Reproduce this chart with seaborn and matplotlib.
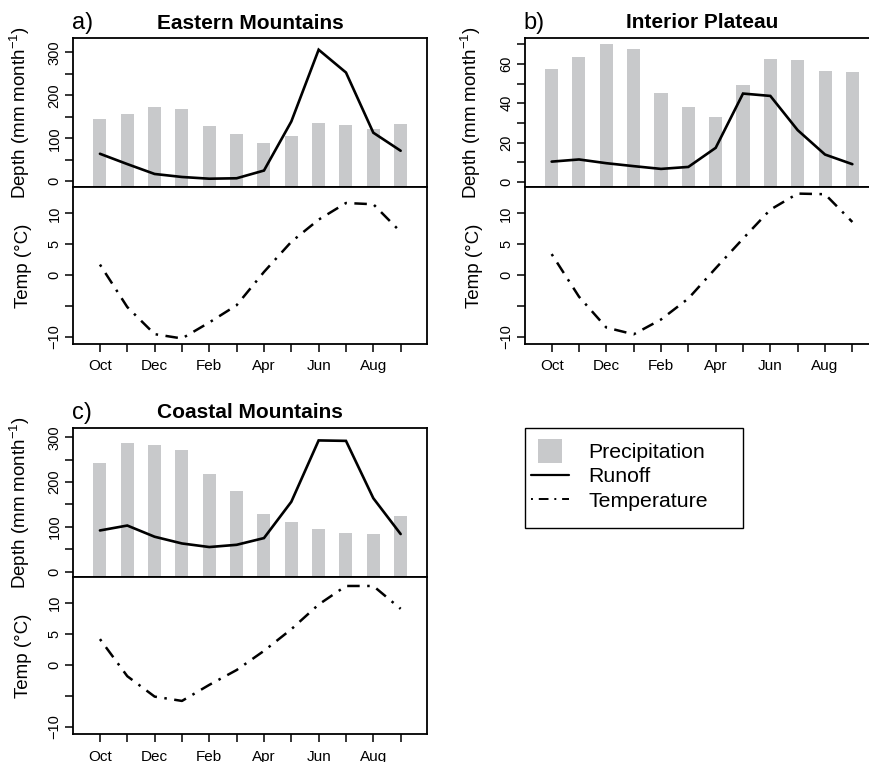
import numpy as np
import pandas as pd
import matplotlib
matplotlib.use('Agg')
import matplotlib.pyplot as plt
import seaborn as sns
from matplotlib.lines import Line2D
from matplotlib.patches import Rectangle

# ---------------- data ----------------
months = ['Oct', 'Nov', 'Dec', 'Jan', 'Feb', 'Mar', 'Apr', 'May', 'Jun', 'Jul', 'Aug', 'Sep']
month_labels = ['Oct', '', 'Dec', '', 'Feb', '', 'Apr', '', 'Jun', '', 'Aug', '']

panel_letters = ['a)', 'b)', 'c)']
panel_titles = ['Eastern Mountains', 'Interior Plateau', 'Coastal Mountains']

precip_east = [145, 157, 173, 168, 129, 111, 88, 105, 135, 131, 122, 133]
runoff_east = [64, 40, 17, 10, 6, 7, 25, 139, 306, 253, 113, 71]
temp_east = [1.7, -5.2, -9.6, -10.3, -7.7, -4.9, 0.5, 5.4, 9.0, 11.7, 11.5, 7.0]

precip_int = [57.6, 63.6, 70.3, 67.8, 45.4, 38.1, 32.9, 49.0, 62.4, 62.0, 56.3, 55.9]
runoff_int = [10.3, 11.4, 9.5, 8.0, 6.6, 7.6, 17.3, 44.9, 43.7, 26.3, 13.9, 9.0]
temp_int = [3.4, -3.5, -8.5, -9.6, -7.2, -3.8, 1.1, 5.9, 10.6, 13.2, 13.1, 8.6]

precip_coast = [243, 287, 283, 272, 218, 180, 128, 110, 96, 87, 84, 125]
runoff_coast = [92, 103, 78, 63, 55, 60, 75, 156, 293, 292, 164, 84]
temp_coast = [4.2, -1.8, -5.1, -5.8, -3.2, -0.8, 2.3, 5.8, 9.8, 12.8, 12.8, 9.1]

depth_ticks_big = [0, 50, 100, 150, 200, 250, 300]
depth_labels_big = ['0', '', '100', '', '200', '', '300']
depth_ticks_small = [0, 10, 20, 30, 40, 50, 60, 70]
depth_labels_small = ['0', '', '20', '', '40', '', '60', '']
temp_ticks = [-10, -5, 0, 5, 10]
temp_labels = ['\u221210', '', '0', '5', '10']

legend_labels = ['Precipitation', 'Runoff', 'Temperature']

# ---------------- style ----------------
sns.set_style('ticks')
plt.rcParams['font.family'] = ['Liberation Sans', 'DejaVu Sans']
plt.rcParams['mathtext.default'] = 'regular'
plt.rcParams['axes.edgecolor'] = 'black'
plt.rcParams['axes.linewidth'] = 1.3
plt.rcParams['xtick.color'] = 'black'
plt.rcParams['ytick.color'] = 'black'
plt.rcParams['text.color'] = 'black'
plt.rcParams['axes.labelcolor'] = 'black'

BAR_COLOR = '#c8c9cb'
W, H = 869, 762
fig = plt.figure(figsize=(W / 100, H / 100), dpi=100)


def frac_box(left_px, top_px, width_px, height_px):
    return [left_px / W, 1 - (top_px + height_px) / H, width_px / W, height_px / H]


panels = [
    dict(left=73.3, top=38.3, mid=187.0, bot=344.0,
         precip=precip_east, runoff=runoff_east, temp=temp_east,
         ylim=(-13.3, 332.6), ticks=depth_ticks_big, labels=depth_labels_big),
    dict(left=525.0, top=37.5, mid=186.8, bot=344.2,
         precip=precip_int, runoff=runoff_int, temp=temp_int,
         ylim=(-2.5, 73.4), ticks=depth_ticks_small, labels=depth_labels_small),
    dict(left=73.3, top=427.7, mid=576.7, bot=734.3,
         precip=precip_coast, runoff=runoff_coast, temp=temp_coast,
         ylim=(-11.2, 321.4), ticks=depth_ticks_big, labels=depth_labels_big),
]
AX_W = 354.0
XLIM = (-0.975, 11.975)
idx = np.arange(len(months))

for i, p in enumerate(panels):
    ax_top = fig.add_axes(frac_box(p['left'], p['top'], AX_W, p['mid'] - p['top']))
    ax_bot = fig.add_axes(frac_box(p['left'], p['mid'], AX_W, p['bot'] - p['mid']))

    df = pd.DataFrame({'month': idx, 'precip': p['precip'],
                       'runoff': p['runoff'], 'temp': p['temp']})

    # precipitation bars (extend down to the panel floor)
    sns.barplot(data=df, x='month', y='precip', color=BAR_COLOR, saturation=1,
                width=0.476, errorbar=None, ax=ax_top, linewidth=0)
    ylo = p['ylim'][0]
    for patch in ax_top.patches:
        h = patch.get_height()
        patch.set_y(ylo)
        patch.set_height(h - ylo)

    # runoff line
    sns.lineplot(data=df, x='month', y='runoff', color='black', linewidth=1.9,
                 ax=ax_top, solid_joinstyle='miter')

    ax_top.set_xlim(*XLIM)
    ax_top.set_ylim(*p['ylim'])
    ax_top.set_yticks(p['ticks'])
    ax_top.set_yticklabels(p['labels'], rotation=90, va='center')
    ax_top.tick_params(axis='x', bottom=False, labelbottom=False)
    ax_top.tick_params(axis='y', length=5.5, width=1.1, pad=3, labelsize=10.5)
    ax_top.set_xlabel('')
    ax_top.set_ylabel('Depth (mm month$^{-1}$)', fontsize=13.5)
    ax_top.yaxis.set_label_coords(-0.118, 0.5)

    ax_top.text(-0.004, 1.06, panel_letters[i], transform=ax_top.transAxes,
                ha='left', va='baseline', fontsize=17)
    ax_top.text(0.5, 1.065, panel_titles[i], transform=ax_top.transAxes,
                ha='center', va='baseline', fontsize=15, fontweight='bold')

    # temperature
    sns.lineplot(data=df, x='month', y='temp', color='black', linewidth=1.8,
                 ax=ax_bot)
    ax_bot.get_lines()[-1].set_dashes([1, 3, 5, 3])
    ax_bot.get_lines()[-1].set_dash_capstyle('butt')
    ax_bot.set_xlim(*XLIM)
    ax_bot.set_ylim(-11.2, 14.3)
    ax_bot.set_yticks(temp_ticks)
    ax_bot.set_yticklabels(temp_labels, rotation=90, va='center')
    ax_bot.set_xticks(idx)
    ax_bot.set_xticklabels(month_labels)
    ax_bot.tick_params(axis='y', length=5.5, width=1.1, pad=3, labelsize=10.5)
    ax_bot.tick_params(axis='x', length=6, width=1.1, pad=5, labelsize=11)
    ax_bot.set_xlabel('')
    ax_bot.set_ylabel('Temp (\u00b0C)', fontsize=13.5)
    ax_bot.yaxis.set_label_coords(-0.118, 0.5)

    for ax in (ax_top, ax_bot):
        for s in ax.spines.values():
            s.set_visible(True)
            s.set_color('black')
            s.set_linewidth(1.3)

# ---------------- legend ----------------
handles = [
    Line2D([], [], marker='s', markersize=17, markeredgewidth=0,
           markerfacecolor=BAR_COLOR, linestyle='None'),
    Line2D([], [], color='black', linewidth=1.6),
    Line2D([], [], color='black', linewidth=1.4, dashes=[1, 3, 5, 3]),
]
leg = fig.legend(handles, legend_labels, loc='upper left',
                 bbox_to_anchor=(531 / W, 1 - 443 / H), borderaxespad=0,
                 fontsize=15.3, frameon=False, handlelength=1.8,
                 handletextpad=0.9, borderpad=0, labelspacing=0.25)
# legend box, drawn separately so its padding matches the reference
fig.patches.append(Rectangle((525 / W, 1 - 528.3 / H), (743 - 525) / W, 100 / H,
                             transform=fig.transFigure, fill=False,
                             edgecolor='black', linewidth=1.0))

fig.savefig('out.png', dpi=100)
